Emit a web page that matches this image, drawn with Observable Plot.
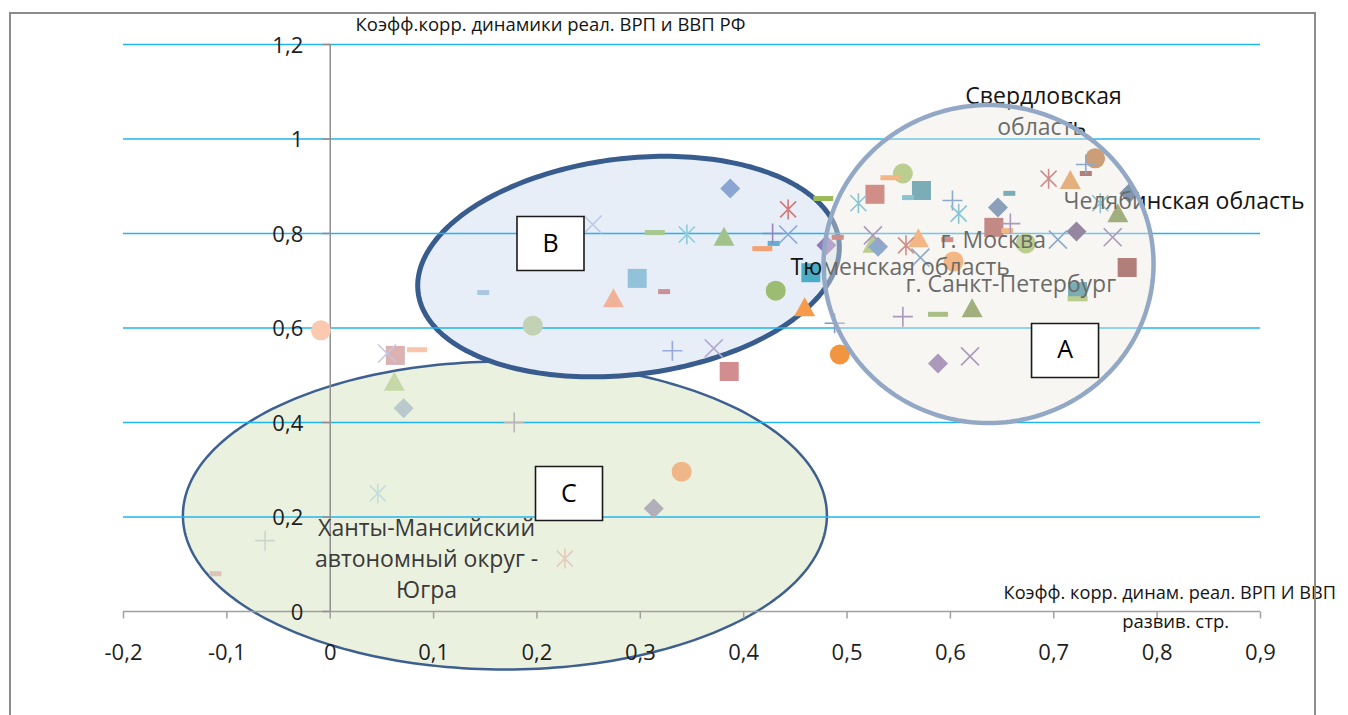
<!DOCTYPE html>
<html><head><meta charset="utf-8">
<script src="https://cdn.jsdelivr.net/npm/d3@7"></script>
<script src="https://cdn.jsdelivr.net/npm/@observablehq/plot@0.6"></script>
<style>
body{margin:0;background:#fff;}
#wrap{position:relative;width:1348px;height:715px;overflow:hidden;background:#fff;}
#wrap svg{display:block;}
#border{position:absolute;left:9px;top:12px;width:1307px;height:760px;border:2px solid #8c8c8c;box-sizing:border-box;pointer-events:none;z-index:2;}
</style></head><body><div id="wrap"><div id="border"></div></div>
<script>
// ---- data ----
const ptX = [-0.009,0.055,0.063,0.084,0.062,0.071,0.178,0.148,0.196,0.046,-0.063,-0.111,0.227,0.313,0.340,0.386,0.493,0.488,0.331,0.371,
 0.387,0.443,0.477,0.254,0.314,0.345,0.381,0.428,0.443,0.418,0.429,0.480,0.465,0.431,0.459,0.297,0.274,0.323,
 0.554,0.542,0.527,0.511,0.572,0.559,0.602,0.608,0.646,0.657,0.642,0.658,0.655,0.695,0.716,0.740,0.731,0.731,0.773,0.745,0.762,0.722,0.757,0.704,0.673,0.771,0.723,0.723,0.603,0.597,0.569,0.557,0.571,0.525,0.525,0.530,0.491,0.554,0.588,0.621,0.588,0.619];
const ptY = [0.595,0.546,0.542,0.554,0.485,0.430,0.400,0.675,0.605,0.250,0.150,0.080,0.112,0.218,0.296,0.508,0.544,0.610,0.552,0.557,
 0.895,0.851,0.874,0.819,0.802,0.798,0.792,0.800,0.798,0.768,0.779,0.775,0.717,0.679,0.643,0.705,0.662,0.677,
 0.927,0.918,0.883,0.864,0.891,0.876,0.870,0.842,0.855,0.885,0.813,0.821,0.806,0.916,0.912,0.959,0.946,0.927,0.885,0.864,0.842,0.804,0.792,0.787,0.779,0.728,0.677,0.662,0.741,0.787,0.789,0.775,0.749,0.796,0.777,0.772,0.792,0.624,0.629,0.641,0.525,0.540];
const ptShape = ["circle","times","square","dash","triangle","diamond","plus","sdash","circle","asterisk","plus","sdash","asterisk","diamond","circle","square","circle","plus","plus","times",
 "diamond","asterisk","dash","times","dash","asterisk","triangle","plus","times","dash","sdash","diamond","square","circle","triangle","square","triangle","sdash",
 "circle","dash","square","asterisk","square","sdash","plus","asterisk","diamond","sdash","square","plus","sdash","asterisk","triangle","circle","plus","sdash","diamond","asterisk","triangle","diamond","times","times","circle","square","square","dash","circle","sdash","triangle","asterisk","times","times","triangle","diamond","sdash","plus","dash","triangle","diamond","times"];
const ptColor = ["#f9c9b0","#c9c6e0","#dcb1b2","#f8c4aa","#c6d7a8","#b9c9cc","#b8b8b8","#a9c8e0","#c3d2b4","#c4dedd","#cdd6cd","#dcc4b6","#e2ccbd","#b0afba","#efb688","#d28d8f","#f29540","#8595c8","#9aaad8","#b3a9d2",
 "#8aa5d2","#d27878","#9bbb59","#b8c9e8","#a8c890","#8ccbdb","#a2c28c","#9484c4","#8ca4da","#f2a272","#5fb0d2","#9379b9","#4bacc6","#9cbc72","#f79a4a","#92c2da","#f2b29a","#c9929a",
 "#9bbb59","#f79646","#c0504d","#4bacc6","#31859c","#4bacc6","#4f81bd","#4bacc6","#4a6fa0","#31859c","#a94a47","#8064a2","#f79646","#c0504d","#e08a3c","#b66d31","#4f81bd","#8c3836","#385d8a","#4bacc6","#71893f","#5c4776","#8064a2","#4f81bd","#9bbb59","#8c3836","#31859c","#9bbb59","#f79646","#c0504d","#f79646","#c0504d","#4f81bd","#8064a2","#9bbb59","#4f81bd","#c0504d","#8064a2","#82a04a","#71893f","#8064a2","#8064a2"];

const gridVals = [0.2,0.4,0.6,0.8,1.0,1.2];
const yTickVals = [0,0.2,0.4,0.6,0.8,1.0,1.2];
const yTickLabels = ["0","0,2","0,4","0,6","0,8","1","1,2"];
const xTickVals = [-0.2,-0.1,0,0.1,0.2,0.3,0.4,0.5,0.6,0.7,0.8,0.9];
const xTickLabels = ["-0,2","-0,1","0","0,1","0,2","0,3","0,4","0,5","0,6","0,7","0,8","0,9"];

const annText = ["Свердловская","область","Челябинская область","г. Москва","Тюменская область","г. Санкт-Петербург","Ханты-Мансийский","автономный округ -","Югра"];
const annX = [0.6901,0.6882,0.7095,0.5905,0.4453,0.5566,0.0932,0.0932,0.0932];
const annY = [1.0899,1.0243,0.8677,0.7852,0.7280,0.6921,0.1757,0.1101,0.0444];
const annAnchor = ["middle","middle","start","start","start","start","middle","middle","middle"];

const boxLabels = ["A","B","C"];
const boxX = [0.7109,0.2131,0.2310];
const boxY = [0.5524,0.7788,0.2497];

const ellName = ["C","B","A"];
const ellCx = [0.169,0.2886,0.6369];
const ellCy = [0.2032,0.730,0.7354];

const titleY = "Коэфф.корр. динамики реал. ВРП и ВВП РФ";
const titleX1 = "Коэфф. корр. динам. реал. ВРП И ВВП";
const titleX2 = "развив. стр.";

// ---- layout ----
const W=1348,H=715,ML=123,MR=88,MT=44,MB=104;
const xDom=[-0.2,0.9], yDom=[0,1.2];
const kx=(W-ML-MR)/(xDom[1]-xDom[0]);
const ky=(H-MT-MB)/(yDom[1]-yDom[0]);
const ellRx=[322,212,165], ellRy=[154,108,159], ellRot=[0,-7,0];
const ellFill=["#ebf1df","#e7eef8","#ebe8e1"], ellFillOp=[1,1,0.4];
const ellStroke=["#3d6091","#375c8d","#93a8c4"], ellSW=[2.5,5,4.5];

function ellipsePts(i){
  const pts=[]; const n=240; const th=ellRot[i]*Math.PI/180;
  for(let k=0;k<n;k++){
    const t=2*Math.PI*k/n; const u=ellRx[i]*Math.cos(t), v=ellRy[i]*Math.sin(t);
    const px=u*Math.cos(th)-v*Math.sin(th), py=u*Math.sin(th)+v*Math.cos(th);
    pts.push({x:ellCx[i]+px/kx, y:ellCy[i]-py/ky});
  }
  return pts;
}
function ellMark(i){
  return Plot.line(ellipsePts(i),{x:"x",y:"y",curve:"linear-closed",fill:ellFill[i],fillOpacity:ellFillOp[i],stroke:ellStroke[i],strokeWidth:ellSW[i]});
}

const points = ptX.map((x,i)=>({x, y:ptY[i], shape:ptShape[i], color:ptColor[i]}));
const ann = annText.map((t,i)=>({t, x:annX[i], y:annY[i], a:annAnchor[i], c:i>=6?"#3a3a3a":"#141414"}));
const boxes = boxLabels.map((t,i)=>({t, x:boxX[i], y:boxY[i]}));

const SYM = {
 circle:{draw(c){c.moveTo(10,0);c.arc(0,0,10,0,2*Math.PI);}},
 square:{draw(c){c.rect(-9.5,-9.5,19,19);}},
 triangle:{draw(c){c.moveTo(0,-10.5);c.lineTo(10.5,8.5);c.lineTo(-10.5,8.5);c.closePath();}},
 diamond:{draw(c){c.moveTo(0,-10);c.lineTo(10,0);c.lineTo(0,10);c.lineTo(-10,0);c.closePath();}},
 dash:{draw(c){c.rect(-10,-2.5,20,5);}},
 sdash:{draw(c){c.rect(-6,-2.5,12,5);}},
 plus:{draw(c){c.moveTo(-10,0);c.lineTo(10,0);c.moveTo(0,-10);c.lineTo(0,10);}},
 times:{draw(c){c.moveTo(-9,-9);c.lineTo(9,9);c.moveTo(-9,9);c.lineTo(9,-9);}},
 asterisk:{draw(c){c.moveTo(0,-10);c.lineTo(0,10);c.moveTo(-8,-8);c.lineTo(8,8);c.moveTo(-8,8);c.lineTo(8,-8);}},
 tickL:{draw(c){c.moveTo(-8,0);c.lineTo(0,0);}},
 tickD:{draw(c){c.moveTo(0,0);c.lineTo(0,7);}},
 box:{draw(c){c.rect(-33.5,-27,67,54);}}
};
const filledShapes=["circle","square","triangle","diamond","dash","sdash"];
const strokedShapes=["plus","times","asterisk"];

const marks=[];
marks.push(ellMark(0), ellMark(1));
marks.push(Plot.ruleY(gridVals,{stroke:"#22b4ec",strokeWidth:1.5}));
marks.push(Plot.ruleY([0],{stroke:"#a0a0a0",strokeWidth:1.5}));
marks.push(Plot.ruleX([0],{stroke:"#909090",strokeWidth:1.5}));
marks.push(Plot.dot(yTickVals,{x:()=>0,y:d=>d,symbol:SYM.tickL,stroke:"#909090",fill:"none",strokeWidth:1.5}));
marks.push(Plot.dot(xTickVals,{x:d=>d,y:()=>0,symbol:SYM.tickD,stroke:"#a0a0a0",fill:"none",strokeWidth:1.5}));
marks.push(Plot.text(yTickVals,{x:()=>0,y:d=>d,text:(d,i)=>yTickLabels[i],textAnchor:"end",dx:-27,dy:1,fontSize:22,fill:"#1e1e1e"}));
marks.push(Plot.text(xTickVals,{x:d=>d,y:()=>0,text:(d,i)=>xTickLabels[i],dy:41,fontSize:22,fill:"#1e1e1e"}));
for(const s of filledShapes) marks.push(Plot.dot(points.filter(d=>d.shape===s),{x:"x",y:"y",symbol:SYM[s],fill:"color",stroke:"none"}));
for(const s of strokedShapes) marks.push(Plot.dot(points.filter(d=>d.shape===s),{x:"x",y:"y",symbol:SYM[s],stroke:"color",fill:"none",strokeWidth:1.6}));
for(const anchor of ["start","middle"]) marks.push(Plot.text(ann.filter(d=>d.a===anchor),{x:"x",y:"y",text:"t",textAnchor:anchor,fill:"c",fontSize:23}));
marks.push(ellMark(2));
marks.push(Plot.text([titleY],{x:()=>0.0245,y:()=>1.2402,text:d=>d,textAnchor:"start",fontSize:18.5,fill:"#141414"}));
marks.push(Plot.text([titleX1],{x:()=>0.6514,y:()=>0.0381,text:d=>d,textAnchor:"start",fontSize:18.2,fill:"#141414"}));
marks.push(Plot.text([titleX2],{x:()=>0.8179,y:()=>-0.0233,text:d=>d,textAnchor:"middle",fontSize:18.5,fill:"#141414"}));
marks.push(Plot.dot(boxes,{x:"x",y:"y",symbol:SYM.box,fill:"white",stroke:"#1a1a1a",strokeWidth:1.6}));
marks.push(Plot.text(boxes,{x:"x",y:"y",text:"t",fontSize:25,fill:"#000"}));

const chart = Plot.plot({
  width:W,height:H,marginLeft:ML,marginRight:MR,marginTop:MT,marginBottom:MB,
  x:{domain:xDom,axis:null},y:{domain:yDom,axis:null},
  color:{type:"identity"},
  style:{background:"white",fontFamily:"'Open Sans', sans-serif",overflow:"visible"},
  marks
});
document.getElementById("wrap").prepend(chart);
</script></body></html>
